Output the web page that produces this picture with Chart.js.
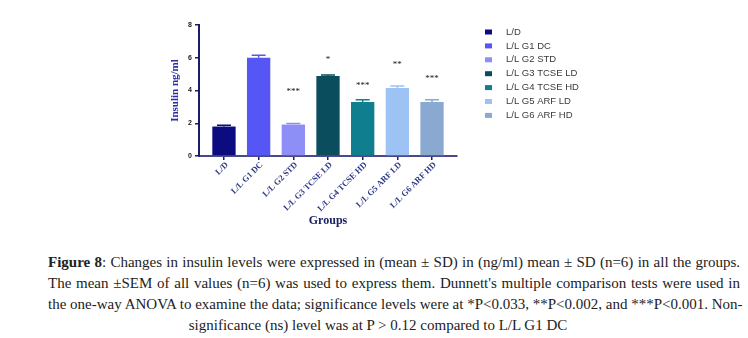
<!DOCTYPE html>
<html>
<head>
<meta charset="utf-8">
<script src="https://cdn.jsdelivr.net/npm/chart.js@4.4.1/dist/chart.umd.min.js"></script>
<style>
  html, body { margin: 0; padding: 0; background: #fff; }
  #wrap { position: relative; width: 748px; height: 230px; }
  #caption {
    margin: 22px 0 0 48px;
    width: 692px;
    font-family: "Liberation Serif", serif;
    font-size: 15px;
    line-height: 21px;
    color: #222;
  }
  #caption .full { text-align: justify; text-align-last: justify; white-space: nowrap; }
  #caption .last { text-align: center; padding-right: 32px; }
</style>
</head>
<body>
<div id="wrap"><canvas id="insulin-chart" width="748" height="230"></canvas></div>
<div id="caption">
  <div class="full"><b>Figure 8</b>: Changes in insulin levels were expressed in (mean ± SD) in (ng/ml) mean ± SD (n=6) in all the groups.</div>
  <div class="full">The mean ±SEM of all values (n=6) was used to express them. Dunnett's multiple comparison tests were used in</div>
  <div class="full">the one-way ANOVA to examine the data; significance levels were at *P&lt;0.033, **P&lt;0.002, and ***P&lt;0.001. Non-</div>
  <div class="last">significance (ns) level was at P &gt; 0.12 compared to L/L G1 DC</div>
</div>
<script>
const groups = ["L/D", "L/L G1 DC", "L/L G2 STD", "L/L G3 TCSE LD", "L/L G4 TCSE HD", "L/L G5 ARF LD", "L/L G6 ARF HD"];
const insulinMean = [1.80, 6.00, 1.92, 4.88, 3.30, 4.16, 3.30];
const insulinSem = [0.08, 0.15, 0.07, 0.06, 0.14, 0.12, 0.14];
const groupColors = ["#0c0c80", "#5656f4", "#8e8ef7", "#0a4e5e", "#0f7e8e", "#9dc3f4", "#89a9d0"];
const starLabels = ["", "", "***", "*", "***", "**", "***"];
const starLevels = [0, 0, 3.9, 5.9, 4.3, 5.6, 4.7];
const yTicks = [0, 2, 4, 6, 8];

const navy = "#1b1b6b";

// error bar caps drawn from the SEM array
const errorBars = {
    id: "errorBars",
    afterDatasetsDraw(chart) {
        const {ctx, scales: {x, y}} = chart;
        ctx.save();
        insulinMean.forEach((m, i) => {
            const cx = x.getPixelForValue(i);
            const top = y.getPixelForValue(m + insulinSem[i]);
            const base = y.getPixelForValue(m);
            ctx.strokeStyle = groupColors[i];
            ctx.lineWidth = 1.5;
            ctx.beginPath();
            ctx.moveTo(cx, base);
            ctx.lineTo(cx, top);
            ctx.moveTo(cx - 7, top);
            ctx.lineTo(cx + 7, top);
            ctx.stroke();
        });
        // significance stars
        ctx.fillStyle = "#111";
        ctx.font = "9px 'Liberation Serif'";
        ctx.textAlign = "center";
        ctx.textBaseline = "middle";
        starLabels.forEach((s, i) => {
            if (!s) return;
            ctx.fillText(s, x.getPixelForValue(i), y.getPixelForValue(starLevels[i]));
        });
        ctx.restore();
    }
};

// legend on the right side
const sideLegend = {
    id: "sideLegend",
    afterDraw(chart) {
        const ctx = chart.ctx;
        ctx.save();
        ctx.font = "9.5px 'Liberation Sans'";
        ctx.textBaseline = "middle";
        ctx.textAlign = "left";
        groups.forEach((g, i) => {
            const rowY = 32 + i * 13.9;
            ctx.fillStyle = groupColors[i];
            ctx.fillRect(485, rowY - 2.5, 7, 5);
            ctx.fillStyle = "#3a3a3a";
            ctx.fillText(g, 506, rowY);
        });
        ctx.restore();
    }
};

const chart = new Chart(document.getElementById("insulin-chart"), {
    type: "bar",
    data: {
        datasets: [{
            data: insulinMean.map((v, i) => ({x: i, y: v})),
            backgroundColor: groupColors,
            barPercentage: 0.82,
            categoryPercentage: 0.82,
            borderWidth: 0
        }]
    },
    options: {
        responsive: false,
        animation: false,
        events: [],
        layout: {padding: {left: 169, right: 291, top: 25, bottom: 0}},
        plugins: {legend: {display: false}, tooltip: {enabled: false}},
        scales: {
            x: {
                type: "linear",
                offset: false,
                min: -0.72,
                max: 6.72,
                afterBuildTicks: s => {
                    s.ticks = groups.map((g, i) => ({value: i}));
                },
                afterFit: s => { s.height = 74; },
                grid: {offset: false, drawOnChartArea: false, drawTicks: true, tickLength: 4, color: navy, lineWidth: 1.5},
                border: {color: "#4a4a8a", width: 2},
                ticks: {
                    callback: v => groups[v],
                    autoSkip: false,
                    minRotation: 45,
                    maxRotation: 45,
                    padding: 0,
                    labelOffset: 3,
                    color: "#2a3585",
                    font: {family: "Liberation Serif", size: 8.5, weight: "bold"}
                },
                title: {
                    display: true,
                    text: "Groups",
                    color: "#1a2060",
                    padding: {top: 0, bottom: 2},
                    font: {family: "Liberation Serif", size: 12, weight: "bold"}
                }
            },
            y: {
                min: 0,
                max: 8,
                afterBuildTicks: s => {
                    s.ticks = yTicks.map(v => ({value: v}));
                },
                afterFit: s => { s.width = 30; },
                grid: {drawOnChartArea: false, drawTicks: true, tickLength: 4, color: navy, lineWidth: 1.5},
                border: {color: navy, width: 2},
                ticks: {
                    padding: 3,
                    color: "#222",
                    font: {family: "Liberation Sans", size: 7, weight: "bold"}
                },
                title: {
                    display: true,
                    text: "Insulin ng/ml",
                    color: "#2b2ba8",
                    padding: {top: 0, bottom: 1},
                    font: {family: "Liberation Serif", size: 11, weight: "bold"}
                }
            }
        }
    },
    plugins: [errorBars, sideLegend]
});
</script>
</body>
</html>
